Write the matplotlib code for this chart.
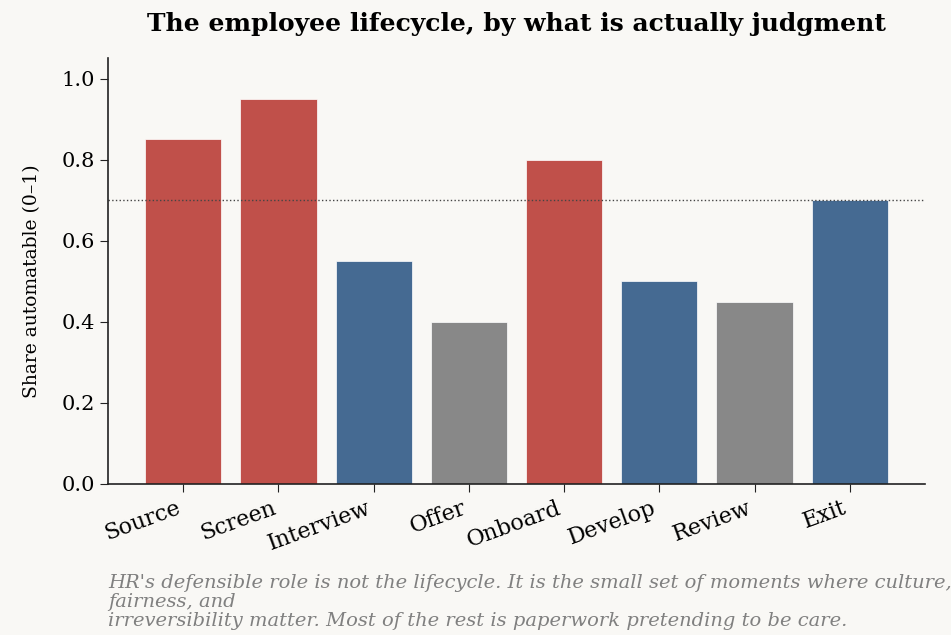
import matplotlib
matplotlib.use("Agg")
import matplotlib.pyplot as plt

stages = ["Source", "Screen", "Interview", "Offer", "Onboard", "Develop", "Review", "Exit"]
share = [0.85, 0.95, 0.55, 0.40, 0.80, 0.50, 0.45, 0.70]
kind = ["auto", "auto", "judge", "mixed", "auto", "judge", "mixed", "judge"]
threshold = 0.7

palette = {"auto": "#c0504a", "judge": "#456a92", "mixed": "#888888"}
bg = "#f9f8f5"

plt.rcParams["font.family"] = ["DejaVu Serif"]

fig = plt.figure(figsize=(9.51, 6.35), dpi=100, facecolor=bg)
ax = fig.add_axes([0.1136, 0.238, 0.859, 0.67])
ax.set_facecolor(bg)

x = list(range(len(stages)))
ax.bar(x, share, width=0.8, color=[palette[k] for k in kind], edgecolor="white", linewidth=0.5)
ax.axhline(threshold, color="#444444", linestyle=":", linewidth=1.0)

ax.set_ylim(0, 1.05)
ax.set_yticks([0.0, 0.2, 0.4, 0.6, 0.8, 1.0])
ax.set_yticklabels(["0.0", "0.2", "0.4", "0.6", "0.8", "1.0"], fontsize=15)
ax.set_xticks(x)
ax.set_xticklabels(stages, rotation=20, ha="right", fontsize=16)
ax.set_ylabel("Share automatable (0–1)", fontsize=13.5)
ax.yaxis.set_label_coords(-0.082, 0.476)
for s in ["top", "right"]:
    ax.spines[s].set_visible(False)
for s in ["left", "bottom"]:
    ax.spines[s].set_color("#222222")
    ax.spines[s].set_linewidth(1.2)
ax.tick_params(length=6, color="#222222")

fig.text(0.543, 0.962, "The employee lifecycle, by what is actually judgment",
         ha="center", va="center", fontsize=18, fontweight="bold")

fig.text(0.1136, 0.008,
         "HR's defensible role is not the lifecycle. It is the small set of moments where culture,\n"
         "fairness, and\n"
         "irreversibility matter. Most of the rest is paperwork pretending to be care.",
         ha="left", va="bottom", fontsize=14, style="italic", color="#808080", linespacing=1.06)

fig.savefig("out.png", dpi=100, facecolor=bg)
